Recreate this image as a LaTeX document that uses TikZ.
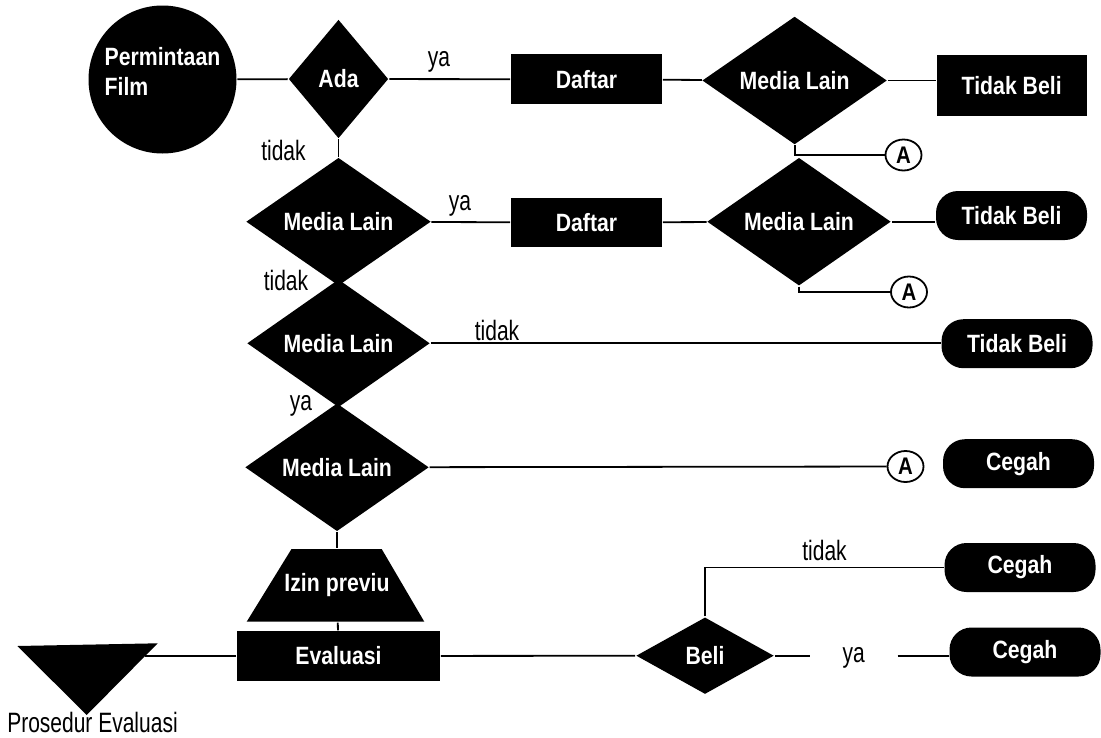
\documentclass[tikz,border=0pt]{standalone}
\usepackage{fontspec}
\usepackage{tikz}
\usetikzlibrary{shapes.geometric}
\newfontfamily\boxfam{Liberation Sans}[FakeStretch=0.85]
\newfontfamily\lblfam{Liberation Sans}[FakeStretch=0.75]

\begin{document}
\begin{tikzpicture}[x=1pt,y=-1pt,line width=1.8pt]
    \tikzstyle{every node}=[inner sep=0pt]
    \tikzstyle{box}=[rectangle,fill=black,text=white,font=\boxfam\bfseries\fontsize{25}{30}\selectfont]
    \tikzstyle{choice}=[box,diamond]
    \tikzstyle{stop}=[box,rounded corners=22pt,minimum width=151pt,minimum height=49pt]
    \tikzstyle{jump}=[ellipse,draw,fill=white,font=\boxfam\bfseries\fontsize{24}{26}\selectfont,minimum width=36pt,minimum height=31pt]
    \tikzstyle{lbl}=[anchor=base,font=\lblfam\fontsize{28}{32}\selectfont]
    \useasboundingbox (0,0) rectangle (1101,737);

    \node[box,circle,minimum size=148pt,label={[box,fill=none,align=left,yshift=8pt]center:Permintaan\\Film}] (film) at (162.5,79.5) {};
    \node[choice,minimum width=100pt,minimum height=119pt] (ada) at (338.5,79) {Ada};
    \node[box,minimum width=151pt,minimum height=50pt] (daf1) at (586.5,79.3) {Daftar};
    \node[choice,minimum width=185pt,minimum height=100pt] (med1) at (794.6,80.5) {Media Lain};
    \node[box,minimum width=150pt,minimum height=61pt] (tb1) at (1011.7,85.4) {Tidak Beli};
    \node[jump] (a1) at (903.5,155) {A};

    \node[choice,minimum width=185pt,minimum height=100pt] (med2) at (338.5,221.7) {Media Lain};
    \node[box,minimum width=151pt,minimum height=49pt] (daf2) at (586.5,222.5) {Daftar};
    \node[choice,minimum width=184pt,minimum height=100pt] (med3) at (799,221.7) {Media Lain};
    \node[stop] (tb2) at (1011.5,215.5) {Tidak Beli};
    \node[jump] (a2) at (909,292) {A};

    \node[choice,minimum width=183pt,minimum height=100pt] (med4) at (338.5,343.3) {Media Lain};
    \node[stop] (tb3) at (1017,343.7) {Tidak Beli};

    \node[choice,minimum width=184pt,minimum height=100pt] (med5) at (337,467.3) {Media Lain};
    \node[jump] (a3) at (905.5,466.5) {A};
    \node[stop] (cg1) at (1018.5,463.7) {Cegah};

    \fill (246.7,621.7) -- (424.3,621.7) -- (381.7,549) -- (291.5,549) -- cycle;
    \node[box,fill=none,minimum width=178pt,minimum height=72.7pt] (izin) at (337,585.3) {Izin previu};
    \node[box,minimum width=203pt,minimum height=49.5pt] (eval) at (338.5,656) {Evaluasi};
    \node[choice,minimum width=138pt,minimum height=77pt] (beli) at (705,655.7) {Beli};
    \node[stop] (cg2) at (1020,567.5) {Cegah};
    \node[stop] (cg3) at (1025,652) {Cegah};

    \fill (17.3,646) -- (157.7,643.3) -- (86.7,715) -- cycle;
    \coordinate (pe) at (145,656);
    \node[lbl] (pelbl) at (92.5,732) {Prosedur Evaluasi};

    \node[lbl] (ya1) at (439,66.5) {ya};
    \node[lbl] (tidak1) at (283.5,160) {tidak};
    \node[lbl] (ya2) at (460,210) {ya};
    \node[lbl] (tidak2) at (286,290) {tidak};
    \node[lbl] (tidak3) at (497,340) {tidak};
    \node[lbl] (ya3) at (301,410) {ya};
    \node[lbl] (tidak4) at (824.5,560) {tidak};
    \node[lbl,minimum width=86pt] (ya4) at (853.7,662) {ya};

    \draw (film) -- (ada);
    \draw (ada) -- (daf1);
    \draw (daf1) -- (med1);
    \draw (med1.east) -- (med1.east -| tb1.west);
    \draw (med1.south) |- (a1);
    \draw (ada) -- (med2);
    \draw (med2) -- (daf2);
    \draw (daf2) -- (med3);
    \draw (med3.east) -- (med3.east -| tb2.west);
    \draw (med3.south) |- (a2);
    \draw (med2) -- (med4);
    \draw (med4.east) -- (med4.east -| tb3.west);
    \draw (med4) -- (med5);
    \draw (med5) -- (a3);
    \draw (med5) -- (izin);
    \draw (izin) -- (eval);
    \draw (eval) -- (beli);
    \draw (eval.west) -- (pe);
    \draw (beli.north) |- (cg2.west);
    \draw (beli.east) -- (ya4.west |- beli.east);
    \draw (ya4.east |- beli.east) -- (beli.east -| cg3.west);

\end{tikzpicture}
\end{document}
